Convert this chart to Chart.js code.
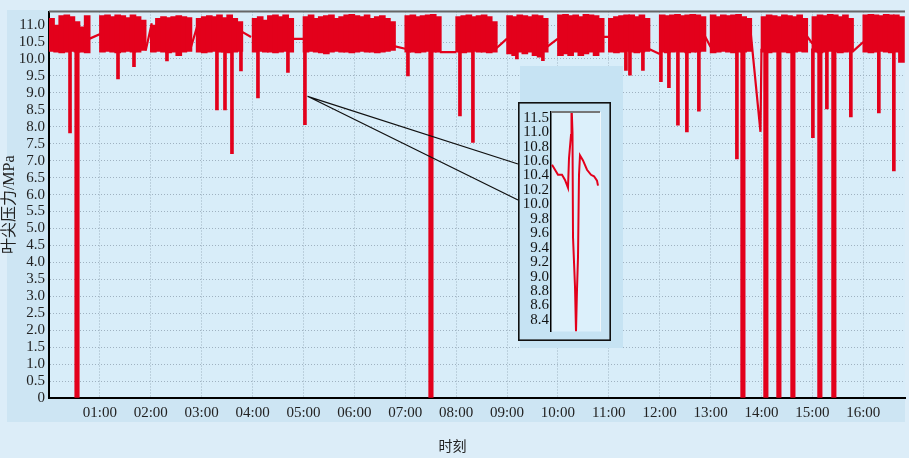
<!DOCTYPE html>
<html><head><meta charset="utf-8">
<script src="https://cdn.jsdelivr.net/npm/chart.js@4.4.1/dist/chart.umd.min.js"></script>
<style>
html,body{margin:0;padding:0;background:#dcedf8;}
#wrap{position:relative;width:909px;height:458px;overflow:hidden;}
#main{position:absolute;left:0;top:0;}
#inset{position:absolute;left:518px;top:102px;}
</style></head><body>
<div id="wrap"><canvas id="main" width="909" height="458"></canvas><canvas id="inset" width="93" height="239"></canvas></div>
<script>
// ---------------- DATA ----------------
const hourLabels = ['01:00','02:00','03:00','04:00','05:00','06:00','07:00','08:00','09:00','10:00','11:00','12:00','13:00','14:00','15:00','16:00'];
const BIN_HOURS = 0.1; // width of one envelope bin (hours)
// upper envelope of the fast oscillation, per 0.1 h bin (null = quiet stretch)
const bandHi = [
 11.2,11.0,11.28,11.3,11.25,11.1,10.95,11.28, null,null,
 11.28,11.3,11.25,11.3,11.28,11.22,11.3,11.25,11.15, null,
 11.0,11.2,11.25,11.22,11.25,11.28,11.25,11.22, null,
 11.2,11.25,11.28,11.25,11.3,11.22,11.3,11.2,11.1, null,null,
 11.2,11.25,11.15,11.28,11.3,11.25,11.3,11.2, null,null,
 11.25,11.3,11.2,11.25,11.28,11.3,11.2,11.25,11.3,11.32,11.28,11.25,11.3,11.2,11.25,11.28,11.2,11.1, null,null,
 11.28,11.3,11.25,11.28,11.3,11.32,11.25, null,null,null,
 11.25,11.28,11.3,11.25,11.28,11.3,11.25,11.1, null,null,
 11.28,11.25,11.3,11.28,11.25,11.3,11.28,11.2, null,null,
 11.3,11.32,11.28,11.3,11.25,11.32,11.3,11.28,11.2, null,
 11.2,11.25,11.28,11.3,11.3,11.25,11.3,11.2, null,null,
 11.3,11.28,11.3,11.32,11.28,11.3,11.32,11.3,11.25, null,
 11.3,11.25,11.3,11.28,11.3,11.32,11.25,11.2, null,null,
 11.25,11.3,11.28,11.25,11.3,11.28,11.25,11.3,11.2, null,
 11.25,11.3,11.28,11.32,11.3,11.25,11.3,11.2, null,null,
 11.3,11.32,11.3,11.28,11.32,11.3,11.3,11.25
];
// lower envelope, same bins
const bandLo = [
 10.22,10.2,10.18,10.2,10.22,10.2,10.2,10.18, null,null,
 10.2,10.22,10.2,10.18,10.2,10.22,10.2,10.2,10.25, null,
 10.2,10.22,10.2,10.18,10.2,10.1,10.2,10.22, null,
 10.2,10.18,10.2,10.22,10.2,10.2,10.18,10.2,10.22, null,null,
 10.2,10.22,10.2,10.2,10.18,10.2,10.22,10.2, null,null,
 10.2,10.22,10.2,10.18,10.15,10.2,10.22,10.2,10.2,10.18,10.2,10.22,10.2,10.2,10.18,10.2,10.22,10.25, null,null,
 10.2,10.2,10.18,10.2,10.22,10.2,10.2, null,null,null,
 10.2,10.18,10.2,10.22,10.2,10.2,10.18,10.2, null,null,
 10.15,10.1,10.2,10.15,10.2,10.1,10.05,10.2, null,null,
 10.1,10.15,10.1,10.2,10.1,10.15,10.2,10.1,10.2, null,
 10.2,10.18,10.2,10.22,10.2,10.18,10.2,10.22, null,null,
 10.2,10.18,10.2,10.22,10.2,10.18,10.2,10.2,10.22, null,
 10.18,10.2,10.22,10.2,10.18,10.2,10.2,10.22, null,null,
 10.2,10.18,10.2,10.22,10.2,10.18,10.2,10.22,10.2, null,
 10.2,10.18,10.2,10.22,10.2,10.18,10.2,10.22, null,null,
 10.2,10.18,10.2,10.22,10.2,10.18,10.2,9.9
];
// short downward spikes (hours, lowest pressure MPa)
const spikeHours = [0.413,1.356,1.67,2.318,3.30,3.458,3.595,3.772,4.106,4.695,5.029,7.053,8.075,8.33,9.194,9.705,11.336,11.415,11.67,12.024,12.181,12.358,12.534,12.77,13.517,15.01,15.285,15.756,16.306,16.601];
const spikeLows  = [7.82,9.41,9.77,9.94,8.5,8.5,7.21,9.65,8.85,9.6,8.06,9.5,8.32,7.54,10.0,9.95,9.66,9.52,9.66,9.33,9.15,8.05,7.85,8.46,7.05,7.68,8.53,8.29,8.41,6.7];
const spikeTop = 10.3;
// drops to zero pressure
const zeroDropHours = [0.55,7.505,13.635,14.086,14.342,14.617,15.147,15.422];
const zeroDropLows  = [0,0,0,0,0,0,0,0];
// quiet stretches between oscillation bursts (null = break)
const quietHours  = [0.80,1.04,1.5, 1.90,2.02,2.4, 2.78,2.94,3.4, 3.77,3.97,4.4, 4.80,5.0,5.9, 6.78,7.0,7.3, 7.68,8.0,8.4, 8.78,9.0,9.4, 9.78,10.0,10.4, 10.88,11.0,11.4, 11.78,12.0,12.4, 12.88,13.0,13.4, 13.78,13.98,14.0,14.4, 14.88,15.0,15.4, 15.78,16.0];
const quietValues = [10.6,10.76,null, 10.25,11.05,null, 10.3,11.1,null, 10.82,10.65,null, 10.59,10.59,null, 10.38,10.3,null, 10.2,10.2,null, 10.3,10.6,null, 10.35,10.6,null, 10.65,10.65,null, 10.3,10.15,null, 10.7,10.35,null, 10.9,7.85,10.3,null, 10.7,10.45,null, 10.2,10.5];
// callout origin on the 05:02 spike
const calloutHour = 5.08, calloutValue = 8.9;
// inset: zoom of one transient (sample position, MPa)
const insetPos  = [1,4,7,11,14,17,18,20,20.5,21.5,22,24,25,26,27,28,29,32,36,40,43,46,47];
const insetVals = [10.55,10.48,10.41,10.41,10.34,10.23,10.64,10.96,11.4,11.0,9.55,8.86,8.24,8.82,9.27,10.41,10.68,10.61,10.48,10.41,10.39,10.33,10.26];
const insetTickValues = [8.4,8.6,8.8,9.0,9.2,9.4,9.6,9.8,10.0,10.2,10.4,10.6,10.8,11.0,11.2];
const insetTickLabels = ['8.4','8.6','8.8','9.0','9.2','9.4','9.6','9.8','10.0','10.2','10.4','10.6','10.8','11.0','11.5'];

// ---------------- STYLE ----------------
const RED = '#e3001b';
const SERIF = "'Liberation Serif','Times New Roman',serif";
const CJK = "'Liberation Serif','Noto Sans CJK SC',serif";
const PAGE_BG = '#dcedf8', PANEL_BG = '#cde5f3', PLOT_BG = '#d8edf9', INSET_PANEL_BG = '#c6e3f3';
const GRID = '#9fb2c1';

const bandData = [];
bandHi.forEach((hi, i) => { if (hi !== null) bandData.push({x: (i + 0.5) * BIN_HOURS, y: [bandLo[i], hi]}); });
const spikeData = spikeHours.map((h, i) => ({x: h, y: [spikeLows[i], spikeTop]}));
const zeroData = zeroDropHours.map((h, i) => ({x: h, y: [zeroDropLows[i], spikeTop]}));
const quietData = quietHours.map((h, i) => ({x: h, y: quietValues[i]}));

const INSET_LEFT = 518, INSET_TOP = 102;

const mainDecor = {
  id: 'mainDecor',
  beforeDraw(chart) {
    const {ctx, chartArea: a, width, height} = chart;
    ctx.save();
    ctx.fillStyle = PAGE_BG; ctx.fillRect(0, 0, width, height);
    ctx.fillStyle = PANEL_BG; ctx.fillRect(7, 10, a.right - 7, 412);
    ctx.fillStyle = PLOT_BG; ctx.fillRect(a.left, a.top, a.right - a.left, a.bottom - a.top);
    ctx.restore();
  },
  beforeDatasetsDraw(chart) {
    const {ctx} = chart;
    ctx.save();
    ctx.fillStyle = INSET_PANEL_BG;
    ctx.fillRect(INSET_LEFT + 2, 66, 103, 282);
    ctx.restore();
  },
  afterDatasetsDraw(chart) {
    const {ctx, chartArea: a, scales} = chart;
    ctx.save();
    ctx.strokeStyle = '#666'; ctx.lineWidth = 2;
    ctx.beginPath(); ctx.moveTo(a.left, a.top); ctx.lineTo(a.right, a.top); ctx.stroke();
    const sx = scales.x.getPixelForValue(calloutHour), sy = scales.y.getPixelForValue(calloutValue);
    ctx.strokeStyle = '#111'; ctx.lineWidth = 1.3;
    ctx.beginPath();
    ctx.moveTo(sx, sy); ctx.lineTo(INSET_LEFT, INSET_TOP + 62);
    ctx.moveTo(sx, sy); ctx.lineTo(INSET_LEFT, INSET_TOP + 98);
    ctx.stroke();
    ctx.restore();
  }
};

const barCommon = {type: 'bar', backgroundColor: RED, grouped: false, borderWidth: 0, barPercentage: 1, categoryPercentage: 1};

new Chart(document.getElementById('main'), {
  type: 'bar',
  data: { datasets: [
    Object.assign({data: bandData, barThickness: 6}, barCommon),
    Object.assign({data: spikeData, barThickness: 3}, barCommon),
    Object.assign({data: zeroData, barThickness: 4.5}, barCommon),
    {type: 'line', data: quietData, borderColor: RED, borderWidth: 2.2, pointRadius: 0, spanGaps: false, tension: 0}
  ]},
  options: {
    responsive: false, animation: false, devicePixelRatio: 1,
    layout: {padding: {left: 0, right: 4, top: 11, bottom: 0}},
    plugins: {
      legend: {display: false}, tooltip: {enabled: false},
      title: {display: true, position: 'bottom', text: '时刻', color: '#222',
              font: {family: CJK, size: 14, weight: 'normal', lineHeight: 1.2}, padding: {top: 0, bottom: 2}}
    },
    scales: {
      x: {
        type: 'linear', min: 0, max: 16.82, offset: false,
        afterFit(s) { s.height = 41.2; },
        grid: {offset: false, color: GRID, lineWidth: 1, drawTicks: false},
        border: {color: '#000', width: 2, dash: [1, 2]},
        ticks: {stepSize: 1, includeBounds: false, autoSkip: false, maxRotation: 0, padding: 8,
                color: '#222', font: {family: SERIF, size: 15, lineHeight: 1},
                callback: v => (v >= 1 && Number.isInteger(v)) ? hourLabels[v - 1] : ''}
      },
      y: {
        type: 'linear', min: 0, max: 11.4,
        afterFit(s) { s.width = 49; },
        grid: {color: GRID, lineWidth: 1, drawTicks: false},
        border: {color: '#000', width: 2, dash: [1, 2]},
        title: {display: true, text: '叶尖压力/MPa', color: '#222', padding: {top: 0, bottom: 0},
                font: {family: CJK, size: 16, lineHeight: 1.2}},
        ticks: {stepSize: 0.5, includeBounds: false, autoSkip: false, padding: 4,
                color: '#222', font: {family: SERIF, size: 15, lineHeight: 1},
                callback: v => v === 0 ? '0' : v.toFixed(1)}
      }
    }
  },
  plugins: [mainDecor]
});

const insetDecor = {
  id: 'insetDecor',
  beforeDraw(chart) {
    const {ctx, chartArea: a, width, height} = chart;
    ctx.save();
    ctx.fillStyle = INSET_PANEL_BG; ctx.fillRect(0, 0, width, height);
    ctx.fillStyle = '#dcf0fb'; ctx.fillRect(a.left, a.top, a.right - a.left, a.bottom - a.top);
    ctx.restore();
  },
  afterDraw(chart) {
    const {ctx, chartArea: a, width, height} = chart;
    ctx.save();
    ctx.strokeStyle = '#777'; ctx.lineWidth = 2;
    ctx.beginPath(); ctx.moveTo(a.left, a.top); ctx.lineTo(a.right, a.top); ctx.stroke();
    ctx.strokeStyle = '#eef7fc'; ctx.lineWidth = 1;
    ctx.beginPath(); ctx.moveTo(a.right + 0.5, a.top); ctx.lineTo(a.right + 0.5, a.bottom); ctx.stroke();
    ctx.strokeStyle = '#111'; ctx.lineWidth = 1.6;
    ctx.strokeRect(0.8, 0.8, width - 1.6, height - 1.6);
    ctx.restore();
  }
};

new Chart(document.getElementById('inset'), {
  type: 'line',
  data: {datasets: [{data: insetPos.map((p, i) => ({x: p, y: insetVals[i]})), borderColor: RED, borderWidth: 2, pointRadius: 0, tension: 0}]},
  options: {
    responsive: false, animation: false, devicePixelRatio: 1,
    layout: {padding: {left: 0, right: 11, top: 10, bottom: 6}},
    plugins: {legend: {display: false}, tooltip: {enabled: false}},
    scales: {
      x: {type: 'linear', min: 0, max: 49, display: false},
      y: {
        type: 'linear', min: 8.24, max: 11.28,
        afterFit(s) { s.width = 33; },
        afterBuildTicks(s) { s.ticks = insetTickValues.map(v => ({value: v})); },
        grid: {display: false, drawTicks: false},
        border: {display: true, color: '#000', width: 1.5},
        ticks: {autoSkip: false, padding: 2, color: '#111', font: {family: SERIF, size: 15, lineHeight: 1},
                callback: (v, i) => insetTickLabels[i]}
      }
    }
  },
  plugins: [insetDecor]
});
</script>
</body></html>
